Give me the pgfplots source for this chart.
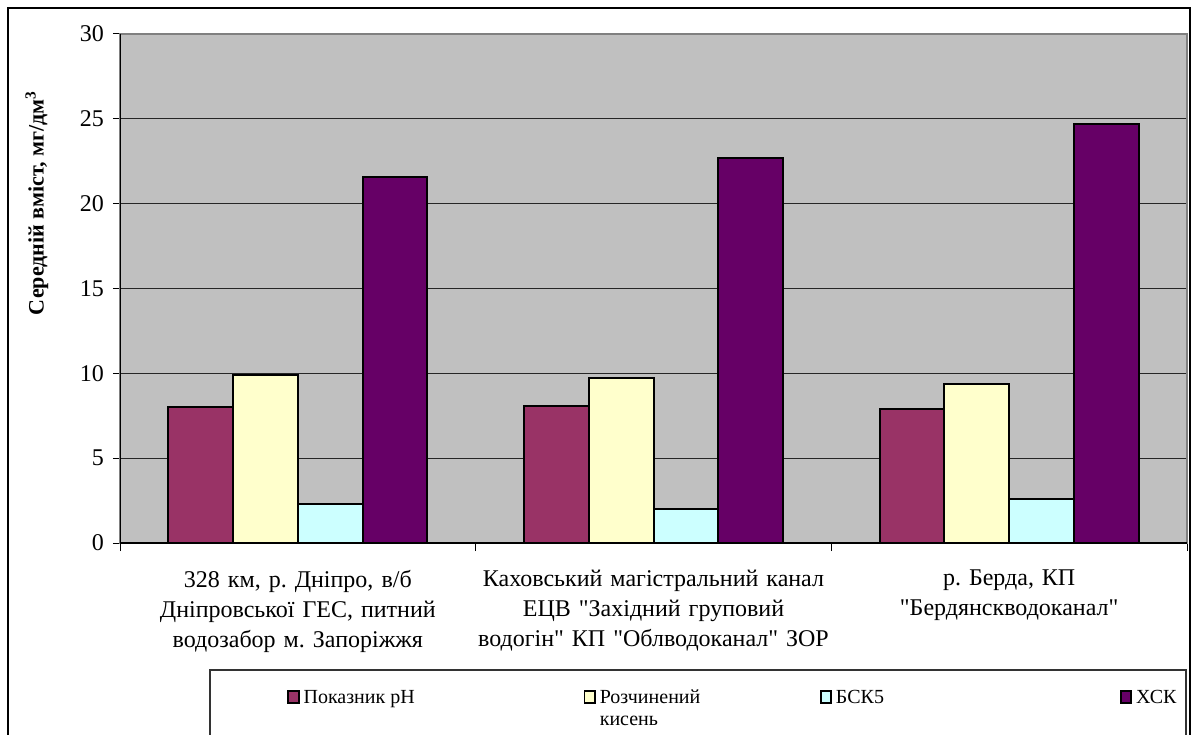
\documentclass[border=0pt]{standalone}
\usepackage{pgfplots}
\pgfplotsset{compat=1.18}
\usepackage{fontspec}
\setmainfont{Liberation Serif}[Ligatures=TeXOff]
\frenchspacing

\definecolor{cPH}{HTML}{993366}
\definecolor{cOX}{HTML}{FFFFCC}
\definecolor{cBSK}{HTML}{CCFFFF}
\definecolor{cXSK}{HTML}{660066}
\definecolor{plotbg}{HTML}{C0C0C0}

\begin{document}
\begin{tikzpicture}
\useasboundingbox (0pt,0pt) rectangle (596pt,367pt);
\begin{axis}[
    at={(60pt,95.5pt)}, anchor=south west,
    scale only axis, width=533.5pt, height=254.5pt,
    xmin=-0.5, xmax=2.5, ymin=0, ymax=30,
    ytick={0,5,10,15,20,25,30},
    xtick={0,1,2},
    xticklabels={
        {328 км, р. Дніпро, в/б\\Дніпровської ГЕС, питний\\водозабор м. Запоріжжя},
        {Каховський магістральний канал\\ЕЦВ "Західний груповий\\водогін" КП "Облводоканал" ЗОР},
        {р. Берда, КП\\"Бердянскводоканал"}},
    minor xtick={-0.5,0.5,1.5,2.5},
    ybar=0pt, bar width=0.182,
    axis background/.style={fill=plotbg},
    axis line style={draw=gray, line width=1pt},
    ymajorgrids, grid style={black!85, line width=0.5pt},
    tick align=outside, xtick pos=bottom, ytick pos=left,
    major tick length=3.5pt, minor tick length=4pt,
    major x tick style={draw=none},
    minor x tick style={draw=black, line width=0.5pt},
    y tick style={draw=black, line width=0.5pt},
    /pgf/number format/assume math mode=true,
    yticklabel style={font=\fontsize{12}{14}\selectfont, xshift=-1pt},
    xticklabel style={font=\fontsize{12}{15}\selectfont, text width=185pt, align=center, yshift=-6.5pt},
    ylabel={\bfseries Середній вміст, мг/дм\textsuperscript{3}},
    ylabel style={at={(axis description cs:-0.078,0.668)}, anchor=center, rotate=0, font=\fontsize{11}{13}\selectfont},
    legend columns=4,
    legend style={at={(axis description cs:0.1565,-0.279)}, anchor=north west,
        draw=none, fill=none, inner sep=0pt,
        cells={anchor=base west, inner xsep=1.5pt, inner ysep=0pt},
        font=\fontsize{10}{11}\selectfont},
    legend image code/.code={\draw[#1, line width=0.9pt] (0.2pt,0.2pt) rectangle (5.4pt,6.2pt);},
]
\addplot[fill=cPH, draw=black, line width=1pt] coordinates {(0,8.0) (1,8.1) (2,7.9)};
\addlegendentry{\parbox[t]{138pt}{Показник pH}}
\addplot[fill=cOX, draw=black, line width=1pt] coordinates {(0,9.9) (1,9.7) (2,9.4)};
\addlegendentry{\parbox[t]{108pt}{Розчинений\\кисень}}
\addplot[fill=cBSK, draw=black, line width=1pt] coordinates {(0,2.3) (1,2.0) (2,2.6)};
\addlegendentry{\parbox[t]{140pt}{БСК5}}
\addplot[fill=cXSK, draw=black, line width=1pt] coordinates {(0,21.6) (1,22.7) (2,24.7)};
\addlegendentry{\parbox[t]{25pt}{ХСК}}
\draw[black, line width=0.7pt] (rel axis cs:0,1) -- (rel axis cs:0,0) -- (rel axis cs:1,0);
\end{axis}
% chart frame and legend box
\draw[black, line width=0.8pt] (4pt,-10pt) -- (4pt,363pt) -- (595pt,363pt) -- (595pt,-10pt);
\draw[black!80, line width=0.6pt] (105pt,-10pt) -- (105pt,32pt) -- (593pt,32pt) -- (593pt,-10pt);
\end{tikzpicture}
\end{document}
